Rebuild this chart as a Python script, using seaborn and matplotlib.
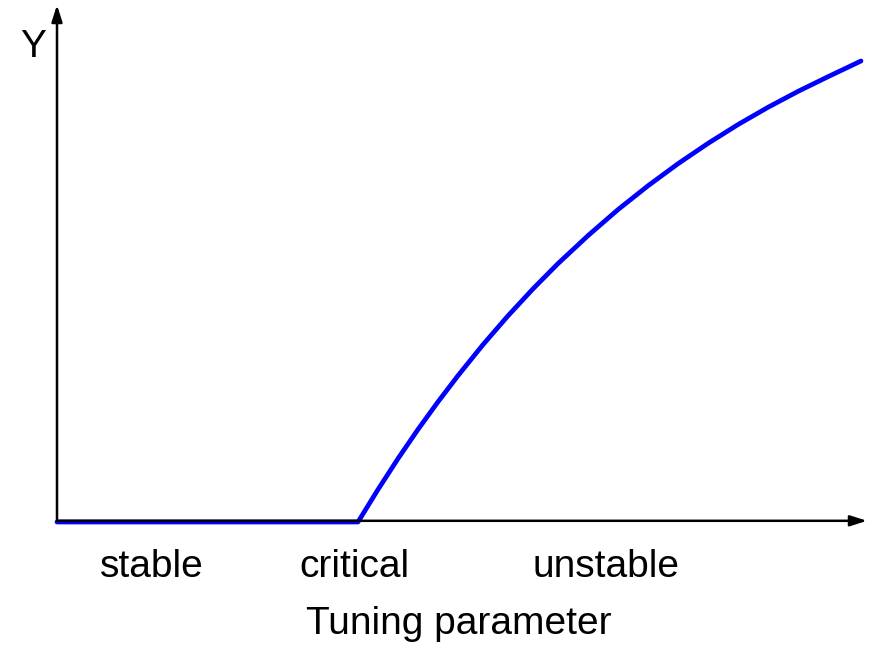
import matplotlib
matplotlib.use("Agg")
import matplotlib.pyplot as plt
import seaborn as sns
import pandas as pd

# Order-parameter response vs. tuning parameter (flat below the critical point)
tuning = [0.0, 3.716, 3.963, 4.210, 4.457, 4.704, 4.951, 5.259, 5.568, 5.877,
          6.185, 6.556, 6.926, 7.296, 7.667, 8.037, 8.407, 8.778, 9.148,
          9.519, 9.926]
response = [0.0, 0.0, 0.325, 0.634, 0.926, 1.202, 1.464, 1.773, 2.062, 2.332,
            2.584, 2.864, 3.124, 3.362, 3.583, 3.786, 3.974, 4.147, 4.306,
            4.453, 4.610]

region_labels = ["stable", "critical", "unstable"]
region_positions = [1.17, 3.67, 6.78]

x_label = "Tuning parameter"
y_label = "Y"

sns.set_style("white")
plt.rcParams["font.family"] = ["Liberation Sans", "DejaVu Sans"]

fig = plt.figure(figsize=(8.75, 6.45), dpi=100)
ax = fig.add_axes([57 / 875, 123 / 645, 810 / 875, 517 / 645])

df = pd.DataFrame({"tuning": tuning, "response": response})
sns.lineplot(data=df, x="tuning", y="response", ax=ax, color="#0000ff",
             linewidth=3.4, zorder=2, sort=False)
for ln in ax.lines:
    ln.set_clip_on(False)

ax.set_xlim(0, 10)
ax.set_ylim(0, 5.17)
for s in ax.spines.values():
    s.set_visible(False)
ax.set_xticks([])
ax.set_yticks([])
ax.set_xlabel("")
ax.set_ylabel("")

arrow = dict(arrowstyle="-|>,head_length=1.0,head_width=0.32", lw=1.8,
             color="black", shrinkA=0, shrinkB=0)
ax.annotate("", xy=(10.0, 0.012), xytext=(0.0, 0.012), arrowprops=arrow,
            annotation_clip=False, zorder=3)
ax.annotate("", xy=(0.0, 5.17), xytext=(0.0, 0.012), arrowprops=arrow,
            annotation_clip=False, zorder=3)

text_kw = dict(fontsize=28, color="black", clip_on=False, va="baseline",
               ha="center")
for lab, xp in zip(region_labels, region_positions):
    ax.text(xp, -0.55, lab, **text_kw)
ax.text(4.96, -1.12, x_label, **text_kw)
ax.text(-0.30, 4.65, y_label, **text_kw)

fig.savefig("out.png", dpi=100)
